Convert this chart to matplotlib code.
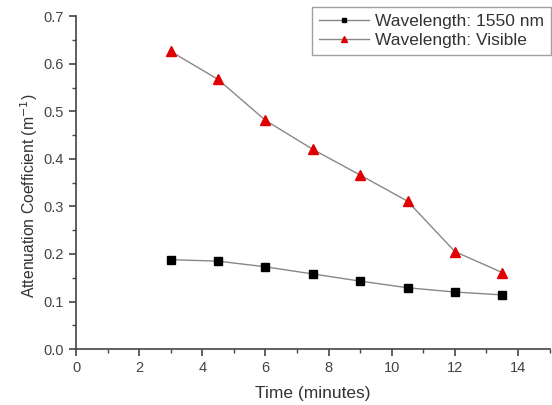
import matplotlib
matplotlib.use("Agg")
import matplotlib.pyplot as plt
from matplotlib.ticker import MultipleLocator

plt.rcParams['font.family'] = ['Liberation Sans', 'DejaVu Sans']

time_min = [3, 4.5, 6, 7.5, 9, 10.5, 12, 13.5]
att_1550 = [0.188, 0.185, 0.173, 0.158, 0.143, 0.129, 0.120, 0.114]
att_visible = [0.626, 0.567, 0.481, 0.420, 0.366, 0.311, 0.205, 0.161]
labels = ['Wavelength: 1550 nm', 'Wavelength: Visible']

fig = plt.figure(figsize=(5.52, 4.05), dpi=100)
ax = fig.add_axes([0.1377, 0.138, 0.858, 0.822])

ax.plot(time_min, att_1550, color='#888888', lw=1.0, marker='s', ms=6,
        mfc='black', mec='black', label=labels[0])
ax.plot(time_min, att_visible, color='#888888', lw=1.0, marker='^', ms=7,
        mfc='#e00000', mec='#e00000', label=labels[1])

ax.set_xlim(0, 15)
ax.set_ylim(0, 0.7)
ax.xaxis.set_major_locator(MultipleLocator(2))
ax.xaxis.set_minor_locator(MultipleLocator(1))
ax.yaxis.set_major_locator(MultipleLocator(0.1))
ax.yaxis.set_minor_locator(MultipleLocator(0.05))
ax.yaxis.set_major_formatter(matplotlib.ticker.FormatStrFormatter('%.1f'))
for s in ['top', 'right']:
    ax.spines[s].set_visible(False)
for s in ['left', 'bottom']:
    ax.spines[s].set_color('#444444')
    ax.spines[s].set_linewidth(1.2)
ax.tick_params(which='major', direction='out', length=5, width=1.2, color='#444444',
               labelsize=10.5, labelcolor='#444444')
ax.tick_params(which='minor', direction='out', length=3, width=1.0, color='#444444')

ax.set_xlabel('Time (minutes)', fontsize=12.5, color='#333333', labelpad=8)
ax.set_ylabel('Attenuation Coefficient (m$^{-1}$)', fontsize=11.3, color='#333333')
ax.yaxis.set_label_coords(-0.077, 0.46)

leg = fig.legend(loc='upper right', bbox_to_anchor=(0.998, 0.982), fontsize=12.5,
                 frameon=True, fancybox=False, edgecolor='#888888',
                 handlelength=2.9, borderpad=0.4, labelspacing=0.2, handletextpad=0.35,
                 markerscale=0.6, borderaxespad=0.0)
leg.get_frame().set_linewidth(1.0)
for t in leg.get_texts():
    t.set_color('#333333')

fig.savefig('out.png', dpi=100)
